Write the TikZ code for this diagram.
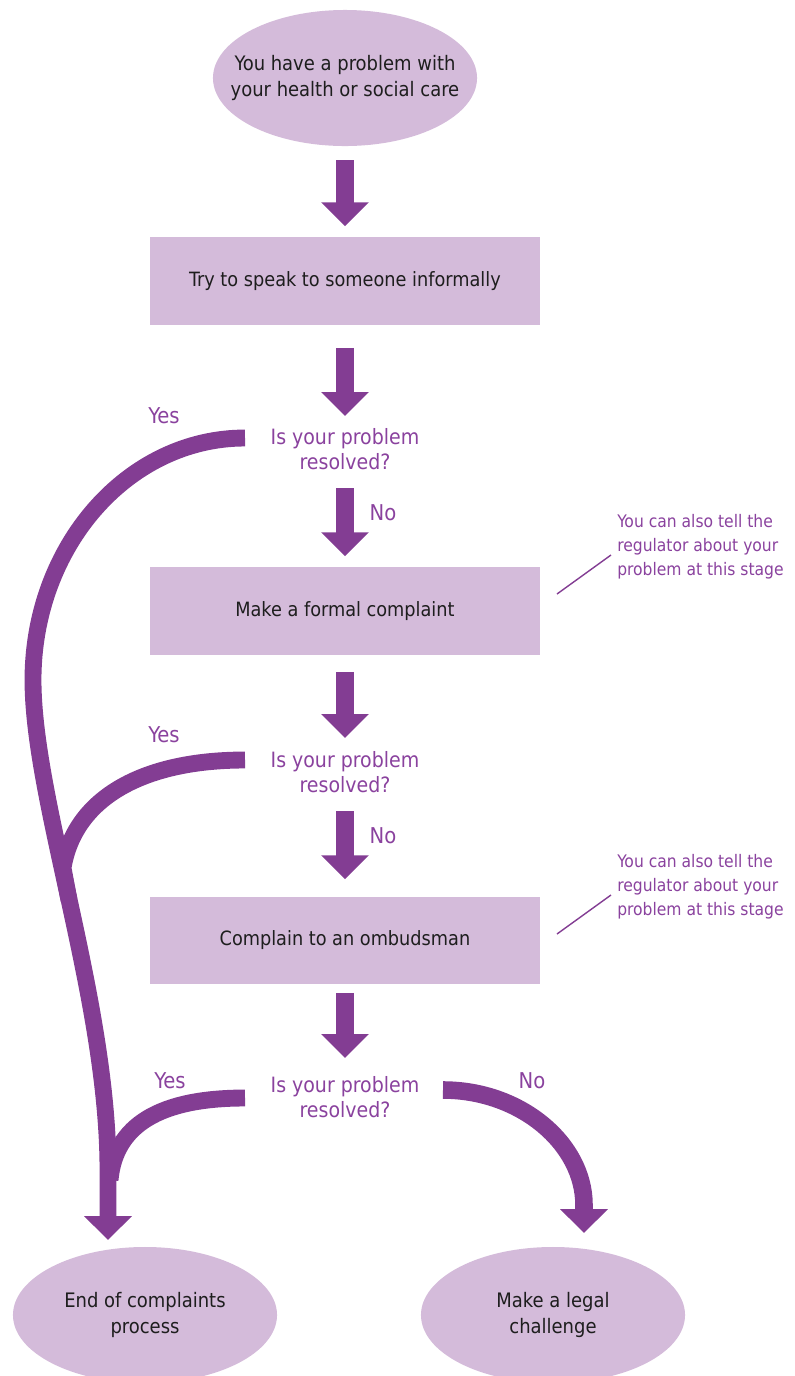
\documentclass[tikz,border=0pt]{standalone}
\usepackage{fontspec}
\setmainfont{DejaVu Sans Condensed}
\usetikzlibrary{arrows.meta, shapes.geometric}
\definecolor{flowpurple}{RGB}{131,61,147}
\definecolor{lilac}{RGB}{212,187,218}
\definecolor{quesink}{RGB}{138,66,158}
\definecolor{boxink}{RGB}{30,30,30}
\tikzset{
  stepbox/.style = {rectangle, fill=lilac, minimum width=9.725cm, minimum height=2.175cm,
    inner sep=0pt, text=boxink, font=\fontsize{14}{18}\selectfont},
  oval/.style = {ellipse, fill=lilac, minimum width=6.6cm, minimum height=3.4cm,
    inner xsep=-0.6cm, inner ysep=0pt, text=boxink, align=center, font=\fontsize{14.2}{18}\selectfont},
  quest/.style = {inner sep=0pt, text=quesink, align=center, font=\fontsize{15}{18}\selectfont},
  note/.style = {inner sep=0pt, text=quesink, align=left, font=\fontsize{12.3}{17}\selectfont},
  answer/.style = {inner sep=0pt, text=quesink, font=\fontsize{15.5}{18}\selectfont},
  flow/.style = {draw=flowpurple, line width=13pt, -{Triangle[width=33pt,length=17pt]}},
  branch/.style = {draw=flowpurple, line width=12pt},
  noteline/.style = {draw=flowpurple, line width=1pt},
}

\begin{document}
\begin{tikzpicture}[x=0.025cm, y=-0.025cm]
\useasboundingbox (0,0) rectangle (795,1376);

% boxes and ovals
\node[oval] (start) at (345,78) {You have a problem with\\your health or social care};
\node[stepbox] (informal) at (345,281) {Try to speak to someone informally};
\node[quest] (q1) at (345,449) {Is your problem\\resolved?};
\node[stepbox] (formal) at (345,611) {Make a formal complaint};
\node[quest] (q2) at (345,772) {Is your problem\\resolved?};
\node[stepbox] (ombud) at (345,940) {Complain to an ombudsman};
\node[quest] (q3) at (345,1097) {Is your problem\\resolved?};
\node[oval] (endproc) at (145,1315) {End of complaints\\process};
\node[oval] (legal) at (553,1315) {Make a legal\\challenge};

% side notes
\node[note, anchor=west] (note1) at (617,547) {You can also tell the\\regulator about your\\problem at this stage};
\node[note, anchor=west] (note2) at (617,887) {You can also tell the\\regulator about your\\problem at this stage};
\coordinate (n1a) at (557,594);
\coordinate (n1b) at (611,555);
\coordinate (n2a) at (557,934);
\coordinate (n2b) at (611,895);
\draw[noteline] (n1a) -- (n1b);
\draw[noteline] (n2a) -- (n2b);

% answers
\node[answer] (yes1) at (164,416) {Yes};
\node[answer] (no1) at (383,513) {No};
\node[answer] (yes2) at (164,735) {Yes};
\node[answer] (no2) at (383,836) {No};
\node[answer] (yes3) at (170,1081) {Yes};
\node[answer] (no3) at (532,1081) {No};

% straight arrows
\draw[flow, shorten <=0.35cm, shorten >=0.275cm] (start) -- (informal);
\draw[flow, shorten <=0.575cm, shorten >=0.3cm] (informal) -- (q1);
\draw[flow, shorten <=0.45cm, shorten >=0.275cm] (q1) -- (formal);
\draw[flow, shorten <=0.425cm, shorten >=0.325cm] (formal) -- (q2);
\draw[flow, shorten <=0.45cm, shorten >=0.425cm] (q2) -- (ombud);
\draw[flow, shorten <=0.225cm, shorten >=0.45cm] (ombud) -- (q3);

% yes / no branches
\coordinate (y1) at (245,438);
\coordinate (y2) at (245,760);
\coordinate (y3) at (245,1098);
\coordinate (r3) at (443,1090);
\coordinate (endtip) at (108,1240);
\coordinate (legaltip) at (584,1233);
\draw[flow, line width=12pt] (y1) .. controls (128,438) and (33,546) .. (33,680)
  .. controls (33,800) and (108,1000) .. (108,1170) -- (endtip);
\draw[branch] (y2) .. controls (140,760) and (74,800) .. (63,868) -- (69,900);
\draw[branch] (y3) .. controls (160,1098) and (115,1125) .. (110,1180);
\draw[flow, line width=12.5pt] (r3) .. controls (521,1090) and (584,1144) .. (584,1205) -- (legaltip);
\end{tikzpicture}
\end{document}
